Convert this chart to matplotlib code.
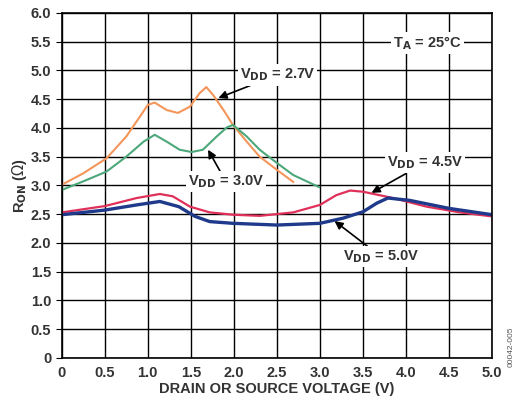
import numpy as np
import matplotlib
matplotlib.use("Agg")
import matplotlib.pyplot as plt

plt.rcParams['font.family'] = ['Liberation Sans', 'DejaVu Sans']

# R_ON vs drain/source voltage
v27_x = [0, 0.25, 0.52, 0.75, 0.91, 1.0, 1.08, 1.22, 1.35, 1.49, 1.60, 1.68, 1.76, 1.88,
         1.99, 2.15, 2.30, 2.50, 2.69]
v27_y = [3.01, 3.21, 3.47, 3.85, 4.20, 4.40, 4.44, 4.31, 4.26, 4.37, 4.60, 4.71, 4.57, 4.31,
         4.05, 3.76, 3.50, 3.27, 3.06]

v30_x = [0, 0.25, 0.52, 0.75, 0.95, 1.08, 1.22, 1.37, 1.51, 1.64, 1.80, 1.92, 1.99, 2.15,
         2.30, 2.50, 2.69, 2.99]
v30_y = [2.92, 3.07, 3.24, 3.50, 3.76, 3.88, 3.76, 3.62, 3.58, 3.62, 3.85, 4.01, 4.05, 3.85,
         3.62, 3.39, 3.18, 2.97]

v45_x = [0, 0.5, 0.87, 1.14, 1.29, 1.49, 1.72, 1.99, 2.30, 2.69, 3.0, 3.19, 3.35, 3.50,
         3.85, 4.24, 4.63, 5.0]
v45_y = [2.53, 2.64, 2.78, 2.85, 2.81, 2.63, 2.53, 2.49, 2.47, 2.53, 2.66, 2.83, 2.91, 2.89,
         2.78, 2.63, 2.53, 2.46]

v50_x = [0, 0.5, 0.87, 1.14, 1.36, 1.55, 1.72, 1.99, 2.50, 3.0, 3.27, 3.50, 3.66, 3.79,
         4.04, 4.50, 5.0]
v50_y = [2.49, 2.57, 2.66, 2.72, 2.63, 2.46, 2.37, 2.34, 2.31, 2.34, 2.43, 2.54, 2.69, 2.78,
         2.74, 2.60, 2.49]

fig = plt.figure(figsize=(5.19, 4.03), dpi=100)
ax = fig.add_axes([0.119, 0.112, 0.829, 0.856])

ax.plot(v27_x, v27_y, color='#F4955A', lw=1.5)
ax.plot(v30_x, v30_y, color='#4CA87A', lw=1.5)
ax.plot(v45_x, v45_y, color='#E0305A', lw=1.6)
ax.plot(v50_x, v50_y, color='#1F3A8A', lw=2.4)

ax.set_xlim(0, 5)
ax.set_ylim(0, 6)
ax.set_xticks(np.arange(0, 5.01, 0.5))
ax.set_yticks(np.arange(0, 6.01, 0.5))
ax.set_xticklabels(['0'] + [f'{v:.1f}' for v in np.arange(0.5, 5.01, 0.5)])
ax.set_yticklabels(['0'] + [f'{v:.1f}' for v in np.arange(0.5, 6.01, 0.5)])
ax.grid(True, color='black', lw=1.0)
ax.set_axisbelow(True)
for s in ax.spines.values():
    s.set_color('black')
    s.set_linewidth(1.2)
ax.tick_params(axis='y', length=4, color='black', labelsize=10.5, labelcolor='#333333')
ax.tick_params(axis='x', length=0, pad=6, labelsize=10.5, labelcolor='#333333')
for lbl in ax.get_xticklabels() + ax.get_yticklabels():
    lbl.set_fontweight('bold')

ax.set_xlabel('DRAIN OR SOURCE VOLTAGE (V)', fontsize=10.5, fontweight='bold',
              color='#333333', labelpad=1)
ax.set_ylabel(r'R$_{\mathbf{ON}}$ ($\Omega$)', fontsize=10.5, fontweight='bold',
              color='#333333', labelpad=1)

box = dict(boxstyle='square,pad=0.15', fc='white', ec='none')
arrow = dict(arrowstyle='-|>', color='black', lw=1.2, mutation_scale=12, shrinkA=0, shrinkB=0)
tkw = dict(fontsize=10.5, fontweight='bold', color='#333333', bbox=box, va='center')

ax.text(4.25, 5.48, r'T$_{\mathbf{A}}$ = 25°C', ha='center', **tkw)
ax.annotate(r'V$_{\mathbf{DD}}$ = 2.7V', xy=(1.82, 4.52), xytext=(2.07, 4.92),
            ha='left', arrowprops=arrow, **tkw)
ax.annotate(r'V$_{\mathbf{DD}}$ = 3.0V', xy=(1.70, 3.62), xytext=(1.91, 3.06),
            ha='center', arrowprops=arrow, **tkw)
ax.annotate(r'V$_{\mathbf{DD}}$ = 4.5V', xy=(3.60, 2.87), xytext=(4.22, 3.39),
            ha='center', arrowprops=arrow, **tkw)
ax.annotate(r'V$_{\mathbf{DD}}$ = 5.0V', xy=(3.17, 2.38), xytext=(3.71, 1.76),
            ha='center', arrowprops=arrow, **tkw)

fig.text(0.985, 0.14, '00042-005', rotation=90, fontsize=6, color='#555555',
         ha='center', va='center')

fig.savefig('out.png', dpi=100)
